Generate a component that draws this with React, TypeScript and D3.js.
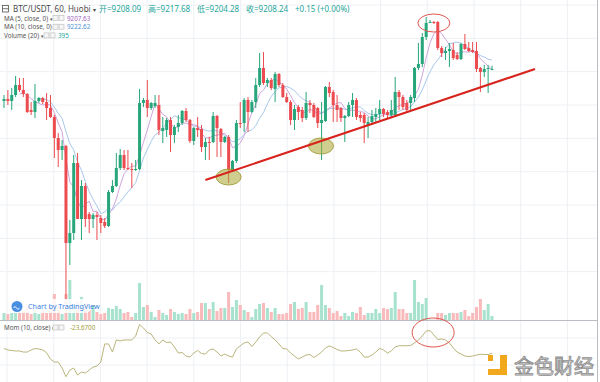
import React from "react";
import * as d3 from "d3";

// ---------- DATA (BTC/USDT 60m, Huobi) ----------
const opens = [9112,9118,9112,9130,9160,9145,9133,9085,9079,9112,9121,9109,9091,9064,9001,8965,8977,8686,8716,8926,8758,8857,8773,8758,8770,8761,8749,8737,8839,8857,8911,8950,8911,8908,8905,8908,9106,9115,9091,9097,9100,9022,9025,9055,9010,9034,9046,9082,9055,8992,9031,9028,8974,8989,8989,9067,9028,8989,9004,8905,8932,9046,9046,9115,9079,9109,9160,9211,9166,9175,9148,9193,9160,9124,9109,9055,9094,9085,9061,9106,9100,9091,9046,9052,9154,9139,9100,9091,9061,9067,9100,9115,9070,9070,9040,9049,9064,9073,9088,9079,9070,9070,9139,9124,9106,9106,9121,9211,9223,9304,9346,9349,9349,9271,9256,9262,9265,9250,9238,9283,9271,9265,9262,9211,9199,9208,9208.09];
const highs = [9130,9145,9151,9187,9181,9181,9136,9109,9163,9124,9124,9136,9130,9070,9016,8995,8980,8755,8950,8956,8875,8866,8779,8776,8779,8770,8761,8845,8875,8956,8968,8965,8965,8926,8935,9148,9121,9175,9109,9130,9130,9064,9061,9064,9040,9070,9085,9091,9058,9034,9064,9040,9001,9004,9079,9070,9031,9007,9010,8935,9055,9109,9121,9124,9115,9181,9256,9259,9181,9181,9199,9196,9166,9136,9115,9100,9100,9094,9139,9115,9106,9094,9109,9157,9169,9145,9130,9094,9070,9109,9136,9121,9079,9076,9064,9085,9091,9115,9091,9085,9115,9184,9145,9130,9115,9130,9214,9286,9316,9364,9355,9352,9352,9277,9274,9286,9286,9259,9286,9313,9289,9289,9289,9214,9220,9220,9217.68];
const lows = [9091,9100,9085,9124,9139,9124,9076,9070,9061,9106,9103,9055,9061,8941,8914,8935,8515,8620,8695,8764,8695,8734,8716,8731,8695,8716,8731,8734,8836,8854,8905,8905,8905,8851,8902,8905,9094,9064,9085,9091,9010,8986,9004,8959,8986,9019,9040,9049,8986,8980,9004,8959,8935,8935,8986,8944,8944,8986,8866,8899,8926,9031,9019,9019,9076,9091,9154,9160,9154,9145,9109,9154,9121,9106,9040,9025,9055,9049,9055,9076,9061,9031,8935,9049,9124,9049,9049,9049,8989,9064,9064,9055,9049,8986,9001,9040,9049,9055,9064,9061,9064,9064,9085,9085,9079,9085,9109,9205,9214,9295,9346,9343,9265,9244,9235,9214,9235,9235,9235,9265,9259,9256,9199,9139,9184,9136,9204.28];
const closes = [9118,9112,9130,9160,9145,9133,9079,9079,9112,9121,9109,9091,9064,9001,8965,8977,8686,8716,8926,8758,8857,8758,8758,8770,8764,8746,8737,8839,8857,8911,8950,8911,8908,8905,8908,9106,9115,9091,9106,9106,9025,9031,9055,9010,9034,9046,9082,9055,8992,9031,9025,8974,8989,8986,9067,9031,8989,9004,8905,8932,9046,9043,9115,9079,9109,9160,9211,9166,9175,9151,9193,9160,9124,9109,9055,9088,9079,9061,9106,9100,9064,9046,9055,9154,9136,9100,9085,9061,9067,9100,9115,9064,9061,9046,9049,9067,9073,9088,9073,9070,9085,9139,9124,9094,9085,9124,9211,9223,9304,9346,9349,9347.5,9271,9256,9262,9268,9241,9238,9283,9268,9262,9259,9208,9199,9208,9211,9208.24];
const volumes = [700,600,700,700,800,900,1300,600,1000,600,1000,700,1200,2600,1500,600,2600,4000,1500,1800,2300,1700,1000,1500,800,600,700,1200,1100,1400,1100,700,800,300,700,3700,1300,1500,800,300,1000,700,500,1100,800,600,700,600,1100,700,800,1700,1700,1100,1800,900,1200,1200,2800,1300,2000,1500,1000,800,300,1100,1600,1700,1200,800,1200,600,600,700,1600,1800,1100,1200,1800,800,800,1500,3500,1500,1200,700,900,400,700,400,800,700,1300,500,700,700,1100,700,1200,1100,1200,2800,1100,1100,700,700,4000,1800,1600,2200,50,50,700,700,500,700,700,700,800,1000,400,700,1300,2100,1000,1600,395];
const momentum = [39,20,13,7,7,-7,-7,20,39,33,20,-16,-98,-137,-137,-215,-328,-241,-215,-306,-267,-280,-241,-202,-189,-137,98,98,-7,150,137,150,150,150,202,351,306,247,228,150,98,150,117,124,59,-20,-13,-59,-72,-20,13,-26,-33,20,33,-7,-59,-33,-59,-72,33,72,111,124,65,124,189,241,241,195,150,98,39,33,-20,-59,-98,-72,-46,-39,-78,-46,-7,46,72,52,26,7,7,13,20,33,-7,-72,-72,-46,-7,39,20,-20,7,59,75,75,75,78,111,150,202,267,273,215,156,163,150,111,46,-7,-33,-59,-65,-59,-46,-36,-39,-39,-23.67];

const headerTitle = "BTC/USDT, 60, Huobi";
const headerOHLC = ["开=9208.09", "高=9217.68", "低=9204.28", "收=9208.24", "+0.15 (+0.00%)"];
const legendRows = [
  { label: "MA (5, close, 0)", value: "9207.63", color: "#a45fc0" },
  { label: "MA (10, close, 0)", value: "9222.62", color: "#4f8fd6" },
  { label: "Volume (20)", value: "395", color: "#26a69a" },
];
const momLegend = { label: "Mom (10, close)", value: "-23.6700", color: "#a3a03c" };

// annotation anchors in data units [candle index, price]
const trendLine = [[52, 8875], [137.1, 9208]];
const supportMarks = [[58, 8884], [81.85, 8977]];
const topMark = [111, 9346];
const momMark = [110.8, 247];

const UP = "#26a67a";
const DOWN = "#ec4b4f";
const UPV = "#a6e2cd";
const DOWNV = "#f8babb";
const FONT = "'Noto Sans', 'Noto Sans CJK SC', sans-serif";

function sma(values: number[], k: number): (number | null)[] {
  return values.map((_, i) => (i < k - 1 ? null : d3.mean(values.slice(i - k + 1, i + 1)) as number));
}

export default function App() {
  const W = 600, H = 382;
  const n = closes.length;
  const x = d3.scaleLinear().domain([0, n - 1]).range([4, 492]);
  const y = d3.scaleLinear().domain([8515, 9415]).range([300, 0]);
  const yv = d3.scaleLinear().domain([0, 4000]).range([320, 280]);
  const ym = d3.scaleLinear().domain([-200, 200]).range([351.5 + 200 / 13, 351.5 - 200 / 13]);

  const ma5 = sma(closes, 5);
  const ma10 = sma(closes, 10);
  const line = d3.line<number | null>()
    .defined((d) => d != null)
    .x((_, i) => x(i))
    .y((d) => y(d as number));
  const momLine = d3.line<number>().x((_, i) => x(i)).y((d) => ym(d));

  const vGrid = d3.range(7, 598, 46.7);
  const hGrid = d3.range(8600, 9450, 100);

  return (
    <div style={{ position: "fixed", left: 0, top: 0, width: W, height: H, background: "#fff" }}>
      <svg width={W} height={H} style={{ display: "block", fontFamily: FONT }}>
        <rect width={W} height={H} fill="#fff" />
        {/* grid */}
        {vGrid.map((gx, i) => (
          <line key={"vg" + i} x1={gx} x2={gx} y1={0} y2={H} stroke="#eef0f4" strokeWidth={1} />
        ))}
        {hGrid.map((p, i) => (
          <line key={"hg" + i} x1={0} x2={597} y1={y(p)} y2={y(p)} stroke="#eef0f4" strokeWidth={1} />
        ))}
        {[175, -175].map((m, i) => (
          <line key={"mg" + i} x1={0} x2={597} y1={ym(m)} y2={ym(m)} stroke="#eef0f4" strokeWidth={1} />
        ))}

        {/* volume */}
        {volumes.map((v, i) => (
          <rect key={"v" + i} x={x(i) - 1.5} width={3} y={yv(v)} height={320 - yv(v)}
            fill={closes[i] >= opens[i] ? UPV : DOWNV} />
        ))}

        {/* MA lines */}
        <path d={line(ma10) || ""} fill="none" stroke="#a9c8ec" strokeWidth={1} />
        <path d={line(ma5) || ""} fill="none" stroke="#cfa6dd" strokeWidth={1} />

        {/* candles */}
        {closes.map((c, i) => {
          const o = opens[i];
          const col = c >= o ? UP : DOWN;
          const top = y(Math.max(o, c));
          const h = Math.max(1, Math.abs(y(o) - y(c)));
          return (
            <g key={"c" + i}>
              <line x1={x(i)} x2={x(i)} y1={y(highs[i])} y2={y(lows[i])} stroke={col} strokeWidth={1} />
              <rect x={x(i) - 1.5} width={3} y={top} height={h} fill={col} />
            </g>
          );
        })}

        {/* support ellipses */}
        {supportMarks.map(([i, p], k) => (
          <ellipse key={"se" + k} cx={x(i)} cy={y(p)} rx={12.5} ry={8}
            fill="rgba(170,165,50,0.55)" stroke="#9b962e" strokeWidth={0.8} />
        ))}
        {/* trend line */}
        <line x1={x(trendLine[0][0])} y1={y(trendLine[0][1])} x2={x(trendLine[1][0])} y2={y(trendLine[1][1])}
          stroke="#d8231d" strokeWidth={2} />
        {/* top ellipse */}
        <ellipse cx={x(topMark[0])} cy={y(topMark[1])} rx={16} ry={9} fill="none" stroke="#e0574f" strokeWidth={1} />

        {/* pane separators */}
        <line x1={0} x2={598} y1={320.5} y2={320.5} stroke="#b9bcc2" strokeWidth={1} />
        <line x1={597.5} x2={597.5} y1={0} y2={H} stroke="#b9bcc2" strokeWidth={1} />

        {/* momentum */}
        <path d={momLine(momentum) || ""} fill="none" stroke="#bab57c" strokeWidth={1} />
        <ellipse cx={x(momMark[0])} cy={ym(momMark[1])} rx={21} ry={14.5} fill="none" stroke="#e0574f" strokeWidth={1} />

        {/* header */}
        <g>
          <rect x={2.5} y={5.5} width={6} height={6.5} fill="none" stroke="#555" strokeWidth={0.8} />
          <line x1={2.5} x2={8.5} y1={8.7} y2={8.7} stroke="#555" strokeWidth={0.8} />
          <text x={13} y={12} fontSize={8} fill="#4a4a4a">{headerTitle} <tspan fontSize={6}>▾</tspan></text>
          {headerOHLC.map((t, i) => (
            <text key={"h" + i} x={99 + i * 49} y={12} fontSize={8} fill="#26a69a">{t}</text>
          ))}
        </g>
        {legendRows.map((r, i) => {
          const ly = 20.5 + i * 8.7;
          const bx = i === 2 ? 44 : 53;
          return (
            <g key={"lg" + i}>
              <text x={4} y={ly} fontSize={6.3} fill="#555">{r.label} <tspan fontSize={5}>▾</tspan></text>
              <rect x={bx} y={ly - 5} width={5} height={5} fill="#f5f5f5" stroke="#b8b8b8" strokeWidth={0.6} />
              <rect x={bx + 6} y={ly - 5} width={5} height={5} fill="#f5f5f5" stroke="#b8b8b8" strokeWidth={0.6} />
              <text x={bx + 14} y={ly} fontSize={6.3} fill={r.color}>{r.value}</text>
            </g>
          );
        })}
        <g>
          <text x={4} y={330} fontSize={6.3} fill="#555">{momLegend.label} <tspan fontSize={5}>▾</tspan></text>
          <rect x={53} y={325} width={5} height={5} fill="#f5f5f5" stroke="#b8b8b8" strokeWidth={0.6} />
          <rect x={59} y={325} width={5} height={5} fill="#f5f5f5" stroke="#b8b8b8" strokeWidth={0.6} />
          <text x={70} y={330} fontSize={6.3} fill={momLegend.color}>{momLegend.value}</text>
        </g>

        {/* TradingView watermark */}
        <g>
          <rect x={8} y={299} width={84} height={14} rx={7} fill="rgba(255,255,255,0.85)" />
          <circle cx={17} cy={306.5} r={5.5} fill="#4a90e2" />
          <path d="M13.5,308 q1.5,-3 3,0 q1.5,3 3,0" fill="none" stroke="#fff" strokeWidth={1} />
          <text x={28} y={309} fontSize={7.2} fill="#3b82e0">Chart by TradingView</text>
        </g>

        {/* 金色财经 logo */}
        <g>
          <rect x={488} y={355} width={5} height={6} fill="#f2a81d" />
          <rect x={500} y={355} width={7} height={20} fill="#f2a81d" />
          <rect x={488} y={369} width={19} height={6} fill="#f2a81d" />
          <text x={514} y={374} fontSize={20} fill="#e4e4e4" stroke="#8f8f8f" strokeWidth={0.9} fontFamily="'Noto Sans CJK SC', sans-serif">金色财经</text>
        </g>
      </svg>
    </div>
  );
}
